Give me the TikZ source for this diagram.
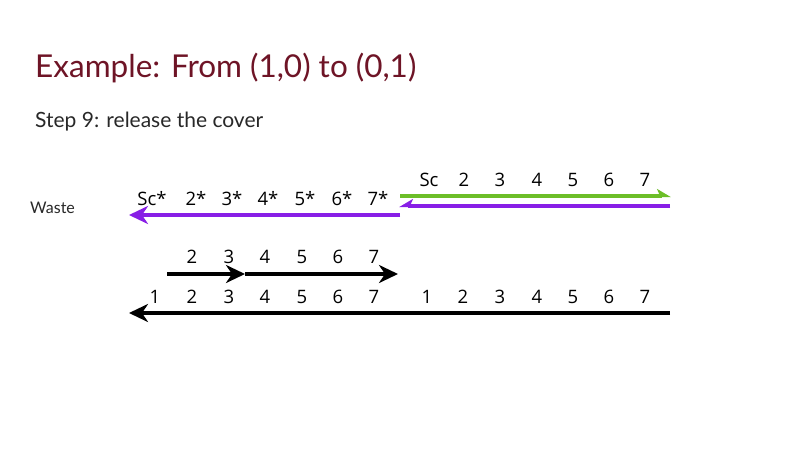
\documentclass[tikz,border=0pt]{standalone}
\usepackage{fontspec}
\setmainfont{Open Sans}
\newfontfamily\titlefont{Lato}
\usetikzlibrary{arrows.meta}
\definecolor{titlered}{RGB}{110,20,38}
\definecolor{mygreen}{RGB}{108,190,40}
\definecolor{mypurple}{RGB}{136,30,230}
\definecolor{textgray}{RGB}{40,40,40}
\tikzset{
  lbl/.style={font=\fontsize{18.5}{18}\selectfont, anchor=base, inner sep=0pt},
  thick4/.style={line width=4.3pt},
  fullhead/.style={-{Stealth[length=19pt,width=18pt,inset=6pt]}},
}
\begin{document}
\begin{tikzpicture}[x=1pt,y=-1pt]
\useasboundingbox[fill=white] (0,0) rectangle (800,450);
\node[anchor=base west, inner sep=0pt, text=titlered, font=\titlefont\fontsize{31.5}{32}\selectfont] (title) at (35,77) {Example: From (1,0) to (0,1)};
\node[anchor=base west, inner sep=0pt, text=textgray, font=\titlefont\fontsize{21}{21}\selectfont] (step) at (35,127) {Step 9: release the cover};
\node[anchor=base west, inner sep=0pt, text=textgray, font=\titlefont\fontsize{16}{16}\selectfont] (waste) at (30,213) {Waste};

% top-left starred labels
\foreach \t/\x [count=\i] in {Sc*/152,2*/196,3*/232,4*/268,5*/305,6*/342,7*/378}
  \node[lbl] (s\i) at (\x,205) {\t};
% top-right labels
\foreach \t/\x [count=\i] in {Sc/429,2/464,3/500,4/537,5/573,6/609,7/645}
  \node[lbl] (r\i) at (\x,186) {\t};
% row 2
\foreach \t/\x [count=\i] in {2/192,3/229,4/265,5/302,6/338,7/374}
  \node[lbl] (m\i) at (\x,263) {\t};
% row 3 left
\foreach \t/\x [count=\i] in {1/155,2/192,3/229,4/265,5/302,6/338,7/374}
  \node[lbl] (a\i) at (\x,303) {\t};
% row 3 right
\foreach \t/\x [count=\i] in {1/427,2/463,3/500,4/537,5/573,6/609,7/645}
  \node[lbl] (b\i) at (\x,303) {\t};

\coordinate (g1) at (400,196);
\coordinate (g2) at (671,196);
\coordinate (p1) at (670,206);
\coordinate (p2) at (399,206);
\coordinate (w1) at (400,215);
\coordinate (w2) at (129,215);
\coordinate (k1) at (167,274);
\coordinate (k2) at (245,274);
\coordinate (k3) at (398,274);
\coordinate (l1) at (670,313);
\coordinate (l2) at (129,313);

\draw[thick4, mygreen, -{Stealth[harpoon,length=12pt,width=14pt,inset=3pt]}] (g1) -- (g2);
\draw[thick4, mypurple, -{Stealth[harpoon,swap,length=12pt,width=14pt,inset=3pt]}] (p1) -- (p2);
\draw[thick4, mypurple, fullhead] (w1) -- (w2);
\draw[thick4, black, fullhead] (k1) -- (k2);
\draw[thick4, black, fullhead] (k2) -- (k3);
\draw[thick4, black, fullhead] (l1) -- (l2);
\end{tikzpicture}
\end{document}
